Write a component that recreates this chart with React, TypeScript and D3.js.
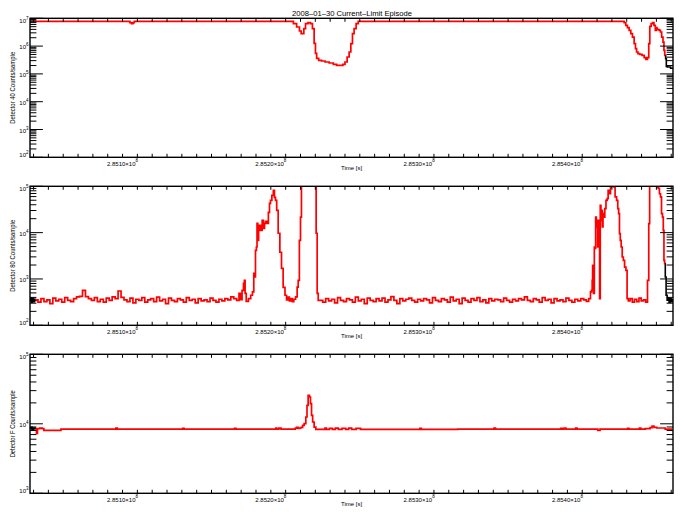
import React from 'react';
import * as d3 from 'd3';

// Times are kiloseconds after 2.85e8 s; values are counts/sample
const timeDomain: [number, number] = [37.6, 471.2];
const xMajorTicks = [100, 200, 300, 400];
const xMajorLabels = ['2.8510×10', '2.8520×10', '2.8530×10', '2.8540×10'];
const xLabelExponent = '8';
const chartTitle = '2008\u201301\u201330 Current\u2013Limit Episode';
const xTitle = 'Time [s]';
const panelYTitles = ['Detector 40 Counts/sample', 'Detector 80 Counts/sample', 'Detector F Counts/sample'];
const panelYDomains: [number, number][] = [[1e2, 1e7], [1e2, 1e5], [1e3, 1e5]];

const det40Red: [number, number][] = [
  [37.6, 7.8e6], [104.4, 7.8e6], [105.5, 7.0e6], [106.6, 6.4e6], [107.5, 7.0e6], [108.4, 7.8e6],
  [214.1, 7.8e6], [216.3, 6.44e6], [218.5, 4.86e6], [220.1, 3.49e6], [220.8, 2.82e6], [221.9, 2.82e6],
  [222.6, 4.25e6], [224.2, 6.44e6], [225.9, 7.0e6], [227.5, 6.44e6], [228.6, 4.25e6], [229.8, 1.26e6],
  [230.4, 5.51e5], [231.4, 3.64e5], [233.1, 3.08e5], [235.4, 2.91e5], [237.7, 2.68e5], [241.0, 2.47e5],
  [243.3, 2.21e5], [245.5, 2.04e5], [247.8, 2.04e5], [249.3, 2.21e5], [250.7, 2.68e5], [252.2, 4.06e5],
  [253.4, 6.14e5], [254.5, 1.23e6], [255.6, 2.82e6], [256.7, 4.25e6], [258.3, 6.44e6], [259.6, 7.8e6],
  [437.7, 7.8e6], [438.8, 7.0e6], [439.9, 5.6e6], [441.0, 4.62e6], [442.2, 3.7e6], [443.3, 2.82e6],
  [444.4, 2.12e6], [445.6, 1.23e6], [446.2, 8.13e5], [447.1, 6.14e5], [448.0, 5.37e5], [449.4, 5.07e5],
  [451.2, 4.67e5], [452.3, 3.86e5], [453.4, 3.35e5], [454.5, 3.86e5], [455.2, 1.23e6], [455.9, 5.15e6],
  [457.0, 6.44e6], [457.9, 7.0e6], [458.8, 5.6e6], [459.7, 3.7e6], [460.2, 4.6e6], [460.6, 4.02e6],
  [461.5, 3.92e6], [462.4, 3.7e6], [463.1, 3.22e6], [464.0, 2.12e6], [464.9, 1.40e6], [465.3, 7.06e5],
  [466.0, 4.67e5],
];
const det40Black: [number, number][] = [
  [466.0, 4.67e5], [466.5, 3.55e5], [466.9, 1.87e5], [468.0, 1.77e5], [471.2, 1.59e5],
];

const det80Red: [number, number][] = [
  [41.6, 345], [42, 355], [44, 315], [46, 375], [48, 325], [50, 355], [52, 295], [54, 385], [56, 335], [58, 365],
  [60, 315], [62, 395], [64, 345], [66, 325], [68, 375], [70, 410], [72, 420], [74, 570], [76, 415], [78, 375],
  [80, 345], [82, 395], [84, 325], [86, 365], [88, 315], [90, 385], [92, 345], [94, 410], [96, 375], [98, 550],
  [100, 400], [102, 355], [104, 325], [106, 385], [108, 305], [110, 365], [112, 345], [114, 395], [116, 315], [118, 355],
  [120, 375], [122, 325], [124, 405], [126, 335], [128, 365], [130, 295], [132, 385], [134, 345], [136, 325], [138, 375],
  [140, 355], [142, 315], [144, 395], [146, 345], [148, 365], [150, 305], [152, 375], [154, 335], [156, 355], [158, 325],
  [160, 385], [162, 345], [164, 315], [166, 365], [168, 335], [170, 375], [172, 355], [174, 410], [176, 375],
  [177.9, 345], [179.2, 490], [180.0, 360], [181.2, 570], [181.9, 806], [182.4, 935], [182.9, 490], [183.9, 330],
  [185.9, 375], [187.0, 445], [188.2, 524], [188.8, 1324], [189.3, 1105], [190.0, 4160], [190.5, 4900], [190.9, 15900],
  [191.5, 6840], [192.0, 11230], [192.7, 14400], [193.8, 11230], [194.5, 18450], [195.4, 12400], [196.1, 15900],
  [196.7, 17600], [197.9, 15900], [198.8, 27500], [199.4, 42970], [200.1, 49900], [201.3, 64000], [202.1, 82000],
  [202.8, 57900], [203.5, 49900], [204.4, 30300], [205.5, 9690], [206.7, 3770], [207.7, 1700], [208.9, 661],
  [210.2, 445], [211, 355], [212, 405], [213, 335], [214, 375], [215, 325], [216, 365], [217.4, 410], [218.1, 670],
  [218.8, 935], [219.7, 6840], [220.3, 21700], [221.0, 300000], [230.2, 300000], [230.9, 9690], [231.6, 490], [232.3, 345],
  [234, 345], [236, 315], [238, 375], [240, 335], [242, 365], [244, 305], [246, 395], [248, 345], [250, 325], [252, 375],
  [254, 355], [256, 315], [258, 405], [260, 335], [262, 365], [264, 295], [266, 385], [268, 345], [270, 325], [272, 375],
  [274, 335], [276, 385], [278, 315], [280, 355], [282, 415], [284, 345], [286, 295], [288, 375], [290, 335], [292, 365],
  [294, 385], [296, 345], [298, 315], [300, 365], [302, 335], [304, 375], [306, 355], [308, 305], [310, 395], [312, 345],
  [314, 325], [316, 375], [318, 355], [320, 315], [322, 405], [324, 335], [326, 365], [328, 295], [330, 385], [332, 345],
  [334, 315], [336, 375], [338, 345], [340, 395], [342, 325], [344, 355], [346, 305], [348, 375], [350, 335], [352, 365],
  [354, 355], [356, 325], [358, 385], [360, 345], [362, 315], [364, 365], [366, 335], [368, 375], [370, 355], [372, 410],
  [374, 345], [376, 325], [378, 375], [380, 355], [382, 315], [384, 395], [386, 345], [388, 365], [390, 305], [392, 375],
  [394, 335], [396, 355], [398, 325], [400, 385], [402, 345], [404, 315], [406, 365], [408, 335], [410, 375], [412, 355],
  [413.5, 330], [415.2, 375], [415.9, 524], [416.6, 570], [416.8, 935], [417.2, 1973], [417.9, 490], [418.4, 4900],
  [418.8, 4590], [419.3, 21700], [419.7, 13300], [420.1, 18450], [420.6, 4900], [421.1, 18450], [421.5, 11230],
  [421.9, 377], [422.4, 38800], [422.8, 18450], [423.3, 30300], [423.8, 13300], [424.2, 25700], [424.9, 21700],
  [425.5, 33000], [426.5, 49900], [427.1, 54000], [427.8, 82000], [428.7, 69000], [429.4, 97000], [430.0, 300000],
  [430.9, 300000], [431.6, 97000], [432.7, 59000], [433.6, 49900], [434.3, 33000], [434.8, 25700], [435.4, 9500],
  [435.9, 6840], [436.6, 4900], [437.3, 2980], [438.1, 2530], [439.0, 1810], [439.9, 1540], [440.6, 377],
  [441.5, 335], [443, 375], [444.5, 315], [446, 365], [447.5, 325], [449, 385], [450.5, 335], [452, 355], [453.5, 315],
  [454.5, 935], [455.2, 15700], [455.7, 300000], [460.1, 300000], [460.8, 97000], [461.7, 90000], [462.4, 69000],
  [463.1, 59000], [463.8, 25700], [464.4, 21700], [464.9, 11230], [465.3, 2530], [465.8, 2150],
];
const det80Black: [number, number][] = [
  [37.6, 335], [38.3, 385], [39.0, 315], [39.6, 375], [40.3, 325], [41.0, 365], [41.6, 345],
];
const det80BlackEnd: [number, number][] = [
  [465.8, 2150], [466.2, 1105], [466.9, 445], [467.6, 346], [468.2, 385], [468.9, 315], [469.6, 375], [470.3, 325], [471.2, 355],
];

const detFRed: [number, number][] = [
  [41.6, 8500], [42.3, 7300], [43.0, 8500], [45.5, 8650], [46.2, 8500], [47.7, 8060], [69.3, 8400], [95, 8400],
  [96, 8650], [97, 8400], [140, 8400], [141, 8600], [142, 8400], [175, 8400], [176, 8600], [177, 8400], [203, 8400],
  [203.7, 8650], [204.4, 8400], [206.5, 8650], [207.2, 8400], [216, 8400], [217, 8650], [218, 8900], [219, 8600],
  [220, 8700], [221.0, 8900], [221.9, 9520], [223.0, 10070], [224.2, 12530], [224.6, 18450], [225.7, 25700],
  [226.4, 24300], [227.1, 19570], [227.8, 13240], [228.6, 10620], [229.8, 8970], [230.9, 8340], [236, 8340],
  [237, 8650], [238, 8340], [241, 8600], [242, 8340], [245, 8650], [246, 8340], [250, 8600], [251, 8340], [254, 8650],
  [255, 8340], [260, 8600], [261, 8340], [300, 8340], [301, 8600], [302, 8340], [350, 8400], [351, 8650], [352, 8400],
  [395, 8400], [396, 8600], [397, 8400], [398.5, 8650], [399.5, 8400], [405, 8400], [406, 8700], [407, 8400],
  [420, 8400], [421, 8050], [423, 8400], [440, 8400], [441, 8600], [442, 8400], [448, 8400], [449, 8650], [450, 8400],
  [455, 8500], [456.5, 8800], [457.7, 9300], [459.0, 8900], [461.5, 8700], [465.3, 8700], [466.5, 8400], [470.8, 8400],
];
const detFBlack: [number, number][] = [
  [37.6, 8500], [38.5, 8900], [39.5, 8200], [40.5, 8700], [41.6, 8500],
];

const panelRed = [det40Red, det80Red, detFRed];
const panelBlack = [[det40Black], [det80Black, det80BlackEnd], [detFBlack]];

const FONT = 'Liberation Sans, Arial, sans-serif';

export default function App() {
  const W = 684, H = 518;
  const left = 30, right = 673;
  const tops = [18.3, 186.3, 354.3];
  const ph = 139;
  const x = d3.scaleLinear().domain(timeDomain).range([left, right]);
  const xTicks = d3.range(40, 471, 10);

  return (
    <svg width={W} height={H} style={{ position: 'absolute', left: 0, top: 0, background: '#fff' }} fontFamily={FONT}>
      <rect width={W} height={H} fill="#fff" />
      <text x={352} y={16.3} textAnchor="middle" fontSize={7} textLength={120} lengthAdjust="spacingAndGlyphs">{chartTitle}</text>
      {tops.map((top, pi) => {
        const bottom = top + ph;
        const dom = panelYDomains[pi];
        const y = d3.scaleLog().domain(dom).range([bottom, top]);
        const line = d3.line<[number, number]>().x(d => x(d[0])).y(d => y(d[1])).curve(d3.curveStep);
        const lo = Math.round(Math.log10(dom[0])), hi = Math.round(Math.log10(dom[1]));
        const yt: { v: number; major: boolean; e: number }[] = [];
        for (let e = lo; e < hi; e++) for (let m = 1; m <= 9; m++) yt.push({ v: m * Math.pow(10, e), major: m === 1, e });
        yt.push({ v: Math.pow(10, hi), major: true, e: hi });
        const mid = (top + bottom) / 2;
        const clipId = `clip${pi}`;
        return (
          <g key={pi}>
            <defs>
              <clipPath id={clipId}><rect x={left} y={top} width={right - left} height={ph} /></clipPath>
            </defs>
            <g clipPath={`url(#${clipId})`} fill="none" strokeLinejoin="miter">
              {panelBlack[pi].map((s, k) => (
                <path key={k} d={line(s) || ''} stroke="#000" strokeWidth={1.6} />
              ))}
              <path d={line(panelRed[pi]) || ''} stroke="#ff0000" strokeWidth={1.7} />
            </g>
            <rect x={left} y={top} width={right - left} height={ph} fill="none" stroke="#000" strokeWidth={1.4} />
            {xTicks.map(t => (
              <g key={t} stroke="#000" strokeWidth={1}>
                <line x1={x(t)} x2={x(t)} y1={bottom} y2={bottom - 3.5} />
                <line x1={x(t)} x2={x(t)} y1={top} y2={top + 3.5} />
              </g>
            ))}
            {yt.map((d, i) => {
              const len = d.major ? 12.9 : 6.4;
              const yy = y(d.v);
              return (
                <g key={i} stroke="#000" strokeWidth={1}>
                  <line x1={left} x2={left + len} y1={yy} y2={yy} />
                  <line x1={right} x2={right - len} y1={yy} y2={yy} />
                </g>
              );
            })}
            {yt.filter(d => d.major).map((d, i) => {
              const c = Math.min(Math.max(y(d.v) + 1, top + 3), bottom - 2);
              return (
                <text key={i} x={28.5} y={c + 2.1} textAnchor="end" fontSize={6}>
                  10<tspan dy={-3} fontSize={4.5}>{d.e}</tspan>
                </text>
              );
            })}
            {xMajorTicks.map((t, i) => (
              <text key={t} x={x(t)} y={bottom + 8.7} textAnchor="middle" fontSize={6}>
                {xMajorLabels[i]}<tspan dy={-4.2} fontSize={4.5}>{xLabelExponent}</tspan>
              </text>
            ))}
            <text x={(left + right) / 2} y={bottom + 12.8} textAnchor="middle" fontSize={6}>{xTitle}</text>
            <text transform={`translate(12.5, ${mid}) rotate(-90)`} textAnchor="middle" dominantBaseline="central"
              fontSize={6.5} textLength={pi === 2 ? 67 : 72} lengthAdjust="spacingAndGlyphs">{panelYTitles[pi]}</text>
          </g>
        );
      })}
    </svg>
  );
}
